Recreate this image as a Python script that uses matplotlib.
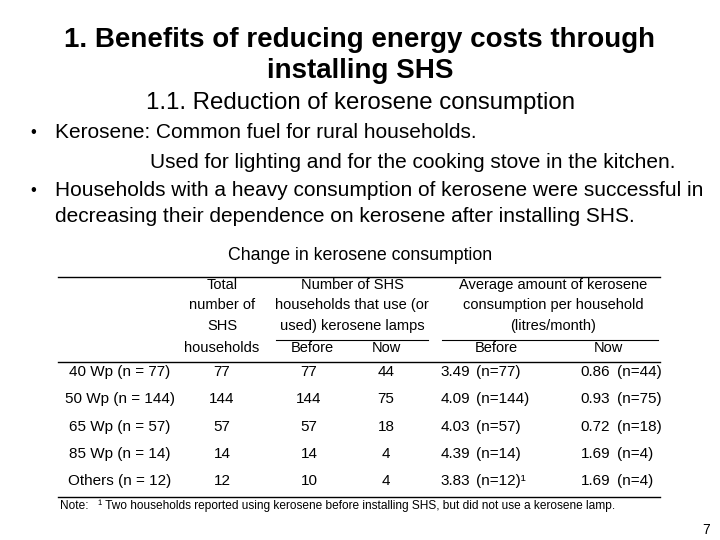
import matplotlib
matplotlib.use("Agg")
import matplotlib.pyplot as plt
from matplotlib.lines import Line2D

# slide text
title_lines = ["1. Benefits of reducing energy costs through", "installing SHS"]
subtitle = "1.1. Reduction of kerosene consumption"
bullets = [
    ("•", "Kerosene: Common fuel for rural households."),
    ("", "Used for lighting and for the cooking stove in the kitchen."),
    ("•", "Households with a heavy consumption of kerosene were successful in"),
    ("", "decreasing their dependence on kerosene after installing SHS."),
]
table_title = "Change in kerosene consumption"

# table data
row_labels = ["40 Wp (n = 77)", "50 Wp (n = 144)", "65 Wp (n = 57)",
              "85 Wp (n = 14)", "Others (n = 12)"]
total_hh = [77, 144, 57, 14, 12]
lamp_before = [77, 144, 57, 14, 10]
lamp_now = [44, 75, 18, 4, 4]
kero_before = [3.49, 4.09, 4.03, 4.39, 3.83]
kero_before_n = ["(n=77)", "(n=144)", "(n=57)", "(n=14)", "(n=12)¹"]
kero_now = [0.86, 0.93, 0.72, 1.69, 1.69]
kero_now_n = ["(n=44)", "(n=75)", "(n=18)", "(n=4)", "(n=4)"]
note = "Note:   ¹ Two households reported using kerosene before installing SHS, but did not use a kerosene lamp."

W, H = 720, 540
fig = plt.figure(figsize=(W / 100, H / 100), dpi=100)
fig.patch.set_facecolor("white")
plt.rcParams["font.family"] = ["Liberation Sans", "DejaVu Sans"]


def txt(x, y, s, **kw):
    # pixel coordinates, origin top-left
    fig.text(x / W, 1 - y / H, s, va="center", **kw)


def hline(x0, x1, y, lw=1.0):
    fig.add_artist(Line2D([x0 / W, x1 / W], [1 - y / H, 1 - y / H],
                          color="black", lw=lw, transform=fig.transFigure))


# heading
txt(360, 40, title_lines[0], ha="center", fontsize=20, fontweight="bold")
txt(360, 71, title_lines[1], ha="center", fontsize=20, fontweight="bold")
txt(360, 103, subtitle, ha="center", fontsize=17.3)

# bullets
bullet_y = [133, 162, 191, 217]
indent = [55, 150, 55, 55]
for (b, s), y, x in zip(bullets, bullet_y, indent):
    if b:
        txt(33, y, b, ha="center", fontsize=12)
    txt(x, y, s, ha="left", fontsize=15)

txt(360, 256, table_title, ha="center", fontsize=12.8)

# table frame
hline(58, 660, 277)
hline(276, 428, 340, lw=0.8)
hline(442, 658, 340, lw=0.8)
hline(58, 660, 362)
hline(58, 660, 497)

fs_h = 10.5
hdr_y = [285, 305, 326, 348]
for y, s in zip(hdr_y, ["Total", "number of", "SHS", "households"]):
    txt(222, y, s, ha="center", fontsize=fs_h)
for y, s in zip(hdr_y[:3], ["Number of SHS", "households that use (or",
                            "used) kerosene lamps"]):
    txt(352, y, s, ha="center", fontsize=fs_h)
for y, s in zip(hdr_y[:3], ["Average amount of kerosene",
                            "consumption per household", "(litres/month)"]):
    txt(553, y, s, ha="center", fontsize=fs_h)
txt(312, 348, "Before", ha="center", fontsize=fs_h)
txt(386, 348, "Now", ha="center", fontsize=fs_h)
txt(496, 348, "Before", ha="center", fontsize=fs_h)
txt(608, 348, "Now", ha="center", fontsize=fs_h)

fs_d = 11
row_y = [372, 399, 427, 454, 481]
for i, y in enumerate(row_y):
    txt(120, y, row_labels[i], ha="center", fontsize=fs_d)
    txt(222, y, str(total_hh[i]), ha="center", fontsize=fs_d)
    txt(309, y, str(lamp_before[i]), ha="center", fontsize=fs_d)
    txt(386, y, str(lamp_now[i]), ha="center", fontsize=fs_d)
    txt(470, y, f"{kero_before[i]:.2f}", ha="right", fontsize=fs_d)
    txt(476, y, kero_before_n[i], ha="left", fontsize=fs_d)
    txt(610, y, f"{kero_now[i]:.2f}", ha="right", fontsize=fs_d)
    txt(617, y, kero_now_n[i], ha="left", fontsize=fs_d)

txt(60, 506, note, ha="left", fontsize=8.6)

txt(706, 530, "7", ha="center", fontsize=10)

fig.savefig("out.png", dpi=100)
